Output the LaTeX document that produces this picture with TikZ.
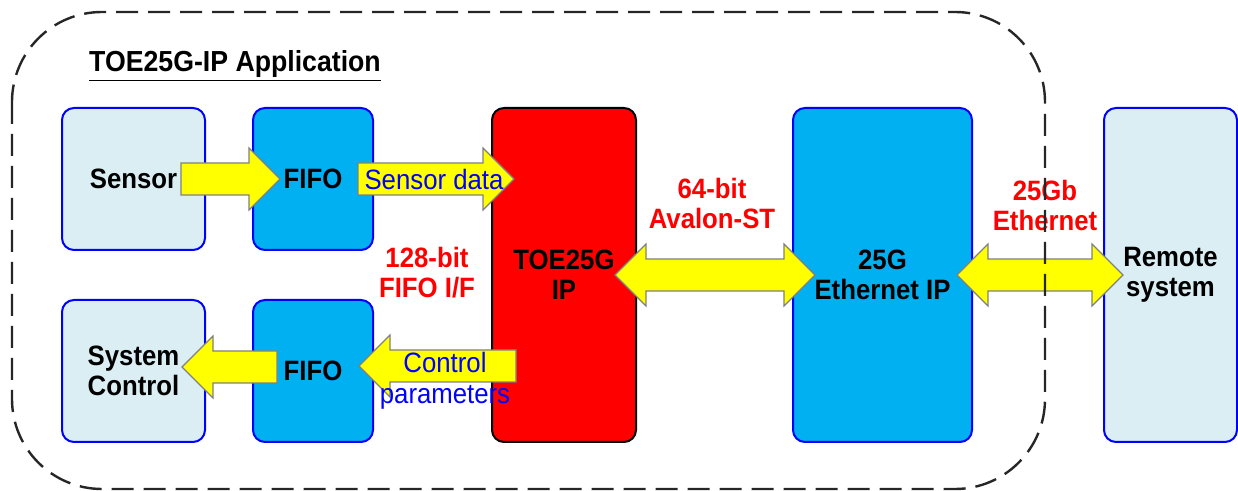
\documentclass[tikz,border=0pt]{standalone}
\usepackage{fontspec}
\setmainfont{Liberation Sans}[FakeStretch=0.92]
\usetikzlibrary{calc}

\definecolor{boxfill}{HTML}{DAEEF3}
\definecolor{fifofill}{HTML}{00B0F0}
\definecolor{arrowfill}{HTML}{FFFF00}
\definecolor{arrowline}{HTML}{808080}

% fat one-way arrow, from #1 to the tip #2 (same height)
\newcommand{\fatarrow}[2]{%
  \draw[fat] let \p1=(#1), \p2=(#2), \n1={sign(\x2-\x1)} in
    (\x1,\y1+8pt) -- (\x2-\n1*15.5pt,\y1+8pt) -- (\x2-\n1*15.5pt,\y1+15.5pt)
    -- (\x2,\y1) -- (\x2-\n1*15.5pt,\y1-15.5pt) -- (\x2-\n1*15.5pt,\y1-8pt)
    -- (\x1,\y1-8pt) -- cycle;}
% fat two-way arrow, tips #1 (left) and #2 (right)
\newcommand{\fatboth}[2]{%
  \draw[fat] let \p1=(#1), \p2=(#2) in
    (\x1,\y1) -- (\x1+15.5pt,\y1+15.5pt) -- (\x1+15.5pt,\y1+8pt)
    -- (\x2-15.5pt,\y1+8pt) -- (\x2-15.5pt,\y1+15.5pt) -- (\x2,\y1)
    -- (\x2-15.5pt,\y1-15.5pt) -- (\x2-15.5pt,\y1-8pt) -- (\x1+15.5pt,\y1-8pt)
    -- (\x1+15.5pt,\y1-15.5pt) -- cycle;}

\begin{document}
\begin{tikzpicture}[x=0.5pt,y=-0.5pt,
  every node/.style={font=\fontsize{14}{15}\selectfont,align=center,inner sep=0pt},
  lightbox/.style={draw=blue,fill=boxfill,line width=1pt,rounded corners=6pt},
  fifobox/.style={draw=blue,fill=fifofill,line width=1pt,rounded corners=6pt},
  toebox/.style={draw=black,fill=red,line width=1pt,rounded corners=6pt},
  fat/.style={draw=arrowline,fill=arrowfill,line width=0.6pt},
  redlabel/.style={text=red,font=\fontsize{14}{15}\selectfont\bfseries},
  bluelabel/.style={text=blue},
  frame/.style={draw=black!85,line width=1.2pt,dash pattern=on 11pt off 5pt,rounded corners=45pt}]
	\useasboundingbox (0,0) rectangle (1238,491);
	\node (title) [font=\fontsize{14.5}{15}\selectfont] at (235,66) {\bfseries\underline{TOE25G-IP Application}};
	\node (sensor) [lightbox,minimum width=71.5pt,minimum height=71pt] at (133.5,179) {\bfseries Sensor};
	\node (fifoA) [fifobox,minimum width=60pt,minimum height=71pt] at (313,179) {\bfseries FIFO};
	\node (sysctl) [lightbox,minimum width=71.5pt,minimum height=71pt] at (133.5,371) {\bfseries System\\\bfseries Control};
	\node (fifoB) [fifobox,minimum width=60pt,minimum height=71pt] at (313,371) {\bfseries FIFO};
	\node (toe) [toebox,minimum width=72pt,minimum height=167pt] at (564,275) {\bfseries TOE25G\\\bfseries IP};
	\node (eth) [fifobox,minimum width=89.5pt,minimum height=167pt] at (882.5,275) {\bfseries 25G\\\bfseries Ethernet IP};
	\node (remote) [lightbox,minimum width=66.5pt,minimum height=167pt] at (1170.5,275) {\bfseries Remote\\\bfseries system};
	% arrow ends
	\coordinate (sA) at ($(sensor.east)+(-25,0)$);
	\coordinate (fA) at ($(fifoA.west)+(28,0)$);
	\coordinate (fAo) at ($(fifoA.east)+(-16,0)$);
	\coordinate (tA) at ($(toe.west)+(23,-96)$);
	\coordinate (tB) at ($(toe.west)+(25,91)$);
	\coordinate (fB) at ($(fifoB.east)+(-15,-5)$);
	\coordinate (fBo) at ($(fifoB.west)+(25,-4)$);
	\coordinate (sB) at ($(sysctl.east)+(-24,-4)$);
	\coordinate (tE) at ($(toe.east)+(-22,0)$);
	\coordinate (eT) at ($(eth.west)+(23,0)$);
	\coordinate (eR) at ($(eth.east)+(-16,0)$);
	\coordinate (rE) at ($(remote.west)+(20,0)$);
	\fatarrow{sA}{fA}
	\fatarrow{fAo}{tA}
	\fatarrow{tB}{fB}
	\fatarrow{fBo}{sB}
	\fatboth{tE}{eT}
	\fatboth{eR}{rE}
	\node (sdata) [bluelabel] at (434,179) {Sensor data};
	\node (ctrl) [bluelabel,font=\fontsize{14}{15.5}\selectfont] at (445,381) {Control\\parameters};
	\node (fifoif) [redlabel] at (427,273) {128-bit\\FIFO I/F};
	\node (avalon) [redlabel] at (712,203) {64-bit\\Avalon-ST};
	\node (eth25) [redlabel] at (1045,205) {25Gb\\Ethernet};
	% application frame
	\draw[frame] (12,12) rectangle (1045,489);
\end{tikzpicture}
\end{document}
